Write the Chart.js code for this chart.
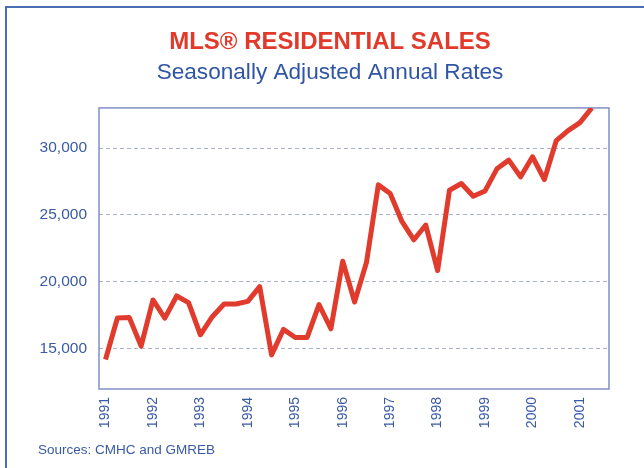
<!DOCTYPE html>
<html>
<head>
<meta charset="utf-8">
<script src="https://cdn.jsdelivr.net/npm/chart.js@4"></script>
<style>
  body { margin: 0; background: #fff; }
  #wrap { position: relative; width: 644px; height: 468px; overflow: hidden; }
  #frame { position: absolute; left: 5px; top: 6px; width: 700px; height: 500px;
    border-top: 2px solid #4a6db3; border-left: 2px solid #4a6db3; }
  #source { position: absolute; left: 38px; top: 442px; font: 13.5px "Liberation Sans", Arial, sans-serif; color: #3a5aa5; }
  canvas { position: absolute; left: 0; top: 0; }
</style>
</head>
<body>
<div id="wrap">
  <div id="frame"></div>
  <canvas id="chart" width="644" height="468"></canvas>
  <div id="source">Sources: CMHC and GMREB</div>
</div>
<script>
// quarterly data, 1991 Q1 .. 2001 Q2
const years = ['1991','1992','1993','1994','1995','1996','1997','1998','1999','2000','2001'];
const quarters = ['Q1','Q2','Q3','Q4'];
const sales = [
  14200, 17300, 17350, 15200,
  18650, 17300, 18950, 18450,
  16050, 17400, 18350, 18350,
  18550, 19650, 14550, 16450,
  15850, 15850, 18300, 16500,
  21550, 18500, 21450, 27250,
  26600, 24500, 23150, 24250,
  20850, 26850, 27350, 26400,
  26800, 28450, 29100, 27850,
  29350, 27650, 30550, 31300,
  31900, 33000
];
const yTicks = [15000, 20000, 25000, 30000];

const labels = sales.map((v, i) => years[Math.floor(i / 4)] + ' ' + quarters[i % 4]);
const blue = '#3a5aa5';

// plot frame
const frame = {
  id: 'frame',
  beforeDatasetsDraw(chart) {
    const a = chart.chartArea, ctx = chart.ctx;
    ctx.save();
    ctx.strokeStyle = '#7f90c4';
    ctx.lineWidth = 1.5;
    ctx.strokeRect(a.left, a.top, a.right - a.left, a.bottom - a.top);
    ctx.restore();
  }
};

new Chart(document.getElementById('chart'), {
  type: 'line',
  data: {
    labels: labels,
    datasets: [{
      label: 'MLS residential sales',
      data: sales.map((v, i) => ({ x: i, y: v })),
      borderColor: '#e03b2c',
      borderWidth: 5,
      borderJoinStyle: 'round',
      tension: 0,
      pointRadius: 0
    }]
  },
  options: {
    responsive: false,
    animation: false,
    layout: { padding: { left: 16, right: 0, bottom: 0 } },
    plugins: {
      legend: { display: false },
      tooltip: { enabled: false },
      title: {
        display: true,
        text: 'MLS® RESIDENTIAL SALES',
        color: '#e2392a',
        font: { family: 'Liberation Sans', size: 24, weight: 'bold', lineHeight: 1.2 },
        padding: { top: 28, bottom: 2 }
      },
      subtitle: {
        display: true,
        text: 'Seasonally Adjusted Annual Rates',
        color: '#2f55a4',
        font: { family: 'Liberation Sans', size: 22.6, lineHeight: 1.2 },
        padding: { top: 0, bottom: 22 }
      }
    },
    scales: {
      x: {
        type: 'linear',
        min: -0.55,
        max: 42.45,
        grid: { display: false, drawTicks: false },
        border: { display: false },
        afterBuildTicks: s => { s.ticks = years.map((y, i) => ({ value: i * 4 })); },
        afterFit: s => { s.height = 79; },
        ticks: {
          autoSkip: false,
          minRotation: 90,
          maxRotation: 90,
          padding: 8,
          color: blue,
          font: { family: 'Liberation Sans', size: 14 },
          callback: v => years[v / 4]
        }
      },
      y: {
        min: 12000,
        max: 33000,
        grid: { color: '#aeb2d2', lineWidth: 1, drawTicks: false },
        border: { display: false, dash: [4, 3] },
        afterBuildTicks: s => { s.ticks = yTicks.map(v => ({ value: v })); },
        afterFit: s => { s.width = 83; },
        ticks: {
          padding: 12,
          color: blue,
          font: { family: 'Liberation Sans', size: 15.5 },
          callback: v => v.toLocaleString('en-US')
        }
      },
      // empty spacer on the right
      yRight: {
        position: 'right',
        grid: { display: false },
        border: { display: false },
        ticks: { display: false },
        afterFit: s => { s.width = 35; }
      }
    }
  },
  plugins: [frame]
});
</script>
</body>
</html>
